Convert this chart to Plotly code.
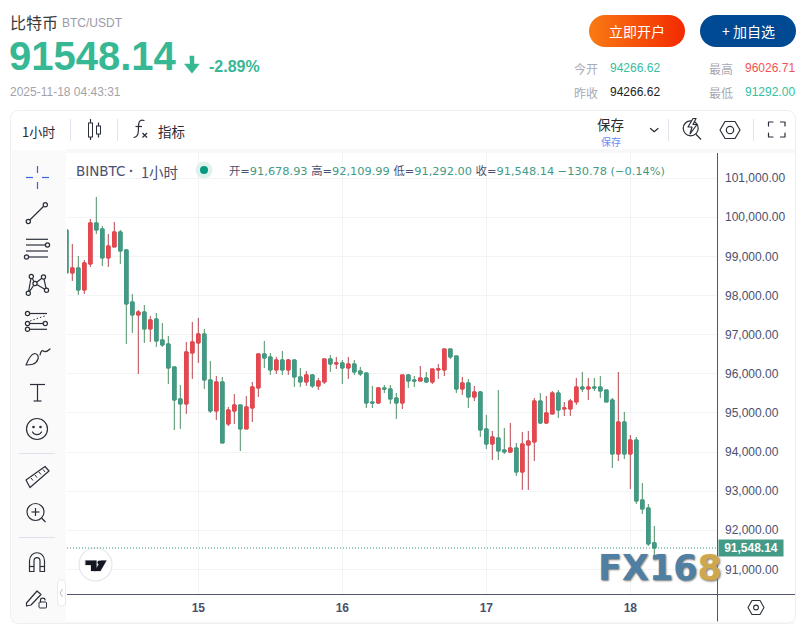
import base64
import pandas as pd
import plotly.graph_objects as go

W, H = 806, 625

opens = [99676,98577,98705,98143,98807,99855,99702,98961,99242,99625,99165,97836,97504,97580,97146,97401,96865,96762,96175,95357,
95229,96532,96788,97018,95842,95050,95791,94718,95050,95203,94590,95126,95638,96507,96430,96098,96353,96098,96353,95919,
95791,95970,95689,95791,96379,96251,96277,96149,96251,96072,96021,95280,95254,95638,95612,95382,95254,95970,95842,95816,
95893,95791,96098,96098,96634,96455,95612,95765,95407,95535,94590,94206,94360,94053,94002,94104,93490,94181,94257,95305,
94743,94973,95510,95101,95101,95280,95663,95612,95663,95663,95586,95331,93951,94768,93951,94308,92775,92570,91678.93]
highs = [99676,99318,99012,98909,99957,100520,99778,99574,99881,99676,99191,98040,97631,97759,97478,97555,97299,96967,96175,95714,
96814,97325,97427,97146,96328,95944,95919,95152,95484,95203,95433,95791,96507,96839,96532,96430,96583,96379,96353,96149,
96072,95995,95893,96379,96481,96430,96353,96430,96353,96174,96021,95689,95663,95714,95714,95510,95970,95995,95944,96200,
96046,96123,96251,96634,96634,96455,95919,95868,95689,95561,94947,94538,95586,94615,94743,94232,94513,94538,95382,95510,
95433,95561,95586,95280,95356,95893,96046,95893,95893,95944,95586,95382,96046,95024,94436,94385,93209,92673,92109.99]
lows = [98577,98373,98015,98040,98731,99574,98756,98731,99242,98807,96762,97044,95996,96788,96814,96686,96686,95740,94564,94590,
94973,95868,96277,95612,94999,94820,94232,94666,94717,94027,94590,94768,95407,96149,95970,95995,95970,95970,95663,95663,
95689,95638,95586,95740,96046,96123,95740,95868,95970,95944,95126,95126,95229,95510,95229,94845,95101,95638,95663,95816,
95765,95740,95868,95944,96379,95510,95459,95126,95305,94385,94078,93797,93797,93951,93976,93388,93030,93030,93772,94717,
94717,94973,94871,94922,94922,95203,95535,95331,95561,95382,95280,93593,93772,93823,93056,92673,92417,91599,91292]
closes = [98577,98705,98143,98833,99855,99676,98961,99267,99625,99139,97785,97504,97580,97146,97376,96839,96737,96149,95331,95229,
96558,96814,97018,95842,95050,95791,94232,95075,95203,94590,95152,95663,96507,96404,96098,96353,96098,96353,95919,95791,
95970,95689,95816,96379,96251,96277,96149,96251,96046,95995,95254,95254,95638,95612,95356,95254,95970,95816,95816,95893,
95791,96123,96123,96634,96430,95612,95765,95407,95535,94564,94206,94385,94027,94002,94104,93490,94206,94283,95305,94743,
94999,95510,95075,95126,95305,95663,95612,95663,95638,95561,95280,93951,94768,93951,94308,92749,92545,91650,91548.14]
times = pd.date_range("2025-11-14 02:00", periods=len(closes), freq="h")

y_ticks = [101000,100000,99000,98000,97000,96000,95000,94000,93000,92000,91000]
day_ticks = ["2025-11-15","2025-11-16","2025-11-17","2025-11-18"]
day_labels = ["15","16","17","18"]
change_label = "−130.78 (−0.14%)"

UP_BODY, UP_WICK = "#e5484f", "#b8464f"
DN_BODY, DN_WICK = "#439a86", "#4c8f62"
AXIS = "#4a5070"
GRID = "#f2f3f5"
GREEN = "#36b894"
SANS = "Liberation Sans, Arial, sans-serif"
CJK = "Noto Sans CJK SC, sans-serif"

fig = go.Figure()
fig.add_trace(go.Candlestick(x=times, open=opens, high=highs, low=lows, close=closes,
    increasing=dict(line=dict(color=UP_WICK, width=1), fillcolor=UP_BODY),
    decreasing=dict(line=dict(color=DN_WICK, width=1), fillcolor=DN_BODY),
    whiskerwidth=0, showlegend=False, hoverinfo="skip"))
fig.add_trace(go.Candlestick(x=times, open=opens, close=closes,
    high=[max(o, c) for o, c in zip(opens, closes)],
    low=[min(o, c) for o, c in zip(opens, closes)],
    increasing=dict(line=dict(color=UP_BODY, width=1), fillcolor=UP_BODY),
    decreasing=dict(line=dict(color=DN_BODY, width=1), fillcolor=DN_BODY),
    whiskerwidth=0, showlegend=False, hoverinfo="skip"))

# ---------- page furniture, drawn in page pixels ----------
ink = "#2b2f3a"
def c(x, y, r, stroke=ink, fill="none", sw=1.2):
    return f'<circle cx="{x}" cy="{y}" r="{r}" fill="{fill}" stroke="{stroke}" stroke-width="{sw}"/>'
def l(x1, y1, x2, y2, stroke=ink, sw=1.2, extra=""):
    return f'<line x1="{x1}" y1="{y1}" x2="{x2}" y2="{y2}" stroke="{stroke}" stroke-width="{sw}" {extra}/>'
def p(d, stroke=ink, fill="none", sw=1.2):
    return f'<path d="{d}" fill="{fill}" stroke="{stroke}" stroke-width="{sw}" stroke-linejoin="round" stroke-linecap="round"/>'
def r(x, y, w, h, fill, rx=0, stroke="none"):
    return f'<rect x="{x}" y="{y}" width="{w}" height="{h}" rx="{rx}" fill="{fill}" stroke="{stroke}"/>'

s = ['<defs><linearGradient id="g" x1="0" x2="1" y1="0" y2="0"><stop offset="0" stop-color="#f97a14"/>'
     '<stop offset="1" stop-color="#f32a00"/></linearGradient></defs>']
# buttons
s += [r(589, 15, 96, 32, "url(#g)", 16), r(700, 15, 96, 32, "#004a93", 16)]
# down arrow
s += [p("M190 56H194V64H199.3L192 73.3L184.5 64H190Z", stroke=GREEN, fill=GREEN, sw=0.5)]
# panels
s += [r(11, 150, 55, 473, "#fafafa"), r(66, 149, 729, 4, "#f8f8f8"), r(66, 621.5, 729, 2, "#f8f8f8")]
s += [r(10.5, 110.5, 785, 513, "none", 8, "#eeeff2")]
# top toolbar
for x in (70.5, 117.5, 668.5, 753.5):
    s.append(l(x, 119, x, 141, "#e0e3eb", 1))
s += [l(90.5, 119, 90.5, 140), r(88.5, 123, 4, 14, "#fff", 0, ink), l(98.5, 122.5, 98.5, 137.5), r(96.5, 126, 4, 8, "#fff", 0, ink)]
s += [p("M144 120.5C139 119 138.5 123 138.5 127C138.5 132 138.5 137 134 137.5"), l(135.5, 126.5, 142, 126.5),
      l(142.5, 133, 147, 137.5), l(147, 133, 142.5, 137.5)]
s += [p("M650.5 128.5L654.2 131.7L658 128.5")]
s += [c(690.7, 128.3, 7.5), l(695.8, 134, 701, 139.5), p("M693 118.5L688 127H692L690 134L697 124.5H693L696 118.5Z", fill="#fff")]
s += [p("M720 130L725 121.5H735L740 130L735 138.5H725Z"), c(730, 130, 3.7)]
s += [p("M768.5 126V122H773"), p("M780.5 122H785V126"), p("M768.5 133V137H773"), p("M780.5 137H785V133")]
# left tools
blue = "#3b62e0"
s += [l(26, 177.5, 33, 177.5, blue), l(42, 177.5, 49, 177.5, blue), l(37.5, 166, 37.5, 173, blue), l(37.5, 182, 37.5, 189, blue)]
s += [l(29.8, 220, 43.7, 206.2), c(28.3, 221.5, 2.1), c(45.3, 204.7, 2.1)]
s += [l(26, 239.3, 48, 239.3), l(26, 245, 45.5, 245), c(47.5, 245, 2.1), l(26, 251, 48, 251), l(28.5, 257, 48, 257), c(26.5, 257, 2.1)]
pts = [(31.3, 276.5), (43.5, 277), (35, 283.5), (46.5, 290.3), (28.3, 293.2)]
s += [p("M28.3 293.2L31.3 276.5L35 283.5L43.5 277L46.5 290.3L35 283.5L28.3 293.2")]
s += [c(x, y, 2.1, fill="#fafafa") for x, y in pts]
s += [l(29.5, 313.5, 47, 313.5), c(27.5, 313.5, 2.1), l(29.5, 323.5, 43.3, 323.5), c(27.5, 323.5, 2.1), c(45.3, 323.5, 2.1),
      l(29.5, 329.3, 47, 329.3), c(27.5, 329.3, 2.1), l(30, 321, 46, 315.5, ink, 1, 'stroke-dasharray="1.5 2"')]
s += [p("M26 365C30 365 36 365 38 359C39 356 37 353.5 34.5 353.5C31 354 28 360 26 365Z"), p("M40 355C41 351 42 349.5 44 351.5C46 352 48 351 50 349")]
s += [l(30, 384.5, 45, 384.5), l(37.5, 384.5, 37.5, 401), l(33.5, 401, 41.5, 401)]
s += [c(37, 429, 10.5), c(33.5, 427, 0.7, fill=ink), c(40.5, 427, 0.7, fill=ink), p("M32.5 432C34.5 435.5 39.5 435.5 41.5 432")]
s += [l(19, 453.5, 55, 453.5, "#dfe3ee", 1), l(19, 537.5, 55, 537.5, "#dfe3ee", 1)]
s += [p("M26 480L45 466.5L49 471L30 487.5Z"), l(31, 478, 33, 480.5, ink, 1), l(35, 475, 37, 477.5, ink, 1), l(39, 472, 41, 474.5, ink, 1), l(43, 469.5, 45, 472, ink, 1)]
s += [c(35.5, 512, 8.5), l(35.5, 508, 35.5, 516), l(31.5, 512, 39.5, 512), l(41.5, 518, 45.5, 522)]
s += [p("M29.5 571.5V561C29.5 550 44.5 550 44.5 561V571.5H40V561C40 556.5 34 556.5 34 561V571.5Z"), l(29.5, 566.5, 34, 566.5), l(40, 566.5, 44.5, 566.5)]
s += [p("M26.5 603L37 591L41 594.5L31 605L26.5 606Z"), r(39, 602, 7.5, 6, "#fafafa", 1, ink), p("M40.5 602V600C40.5 597.5 45 597.5 45 600")]
s += [r(57.5, 580, 8, 26, "#fff", 3, "#e8eaf0"), p("M62.3 589.5L60 593L62.3 596.5", stroke="#b5b9c5", sw=1)]
# axis frame
s += [l(717.5, 153, 717.5, 621.5, "#50566e", 1), l(67, 594.5, 795, 594.5, "#50566e", 1)]
# bottom hexagon
s += [p("M748 607.5L752 600.5H760L764 607.5L760 614.5H752Z", sw=1.1), c(756, 607.5, 2.4, sw=1.1)]
# status dot
s += [c(204, 170, 8.5, "none", "#dff2ee", 0), c(204, 170, 4, "none", "#089981", 0)]
# TV badge
s += [c(95.5, 564.5, 16.5, "#e4e6ee", "#fff", 1.2),
      p("M85.5 560.5H96.5V571H91V565H85.5Z", "#131722", "#131722", 0.2), c(99.5, 562.5, 2.1, "none", "#131722", 0),
      p("M101 560.5L106.5 560.5L100.5 571H94.5Z", "#131722", "#131722", 0.2)]

svg = f'<svg xmlns="http://www.w3.org/2000/svg" width="{W}" height="{H}" viewBox="0 0 {W} {H}">' + "".join(s) + "</svg>"
uri = "data:image/svg+xml;base64," + base64.b64encode(svg.encode()).decode()

# ---------- text ----------
ann = []
def text(x, y, t, size=12, color="#333", anchor="left", family=CJK, weight=None, **kw):
    if anchor == "left":
        x -= 1
    ann.append(dict(x=x / W, y=1 - y / H, xref="paper", yref="paper", text=t, showarrow=False, xanchor=anchor, yanchor="middle",
                    borderpad=0, font=dict(size=size, color=color, family=family, weight=weight), **kw))

text(10, 22, "比特币", 16, "#3a3a3a")
text(62, 23, "BTC/USDT", 12, "#9a9aa8", family=SANS)
text(9, 56, "91548.14", 40, GREEN, family=SANS, weight="bold")
text(209, 67, "-2.89%", 16, GREEN, family=SANS, weight="bold")
text(10, 92, "2025-11-18 04:43:31", 12, "#a3a3ab", family=SANS)
text(637, 31, "立即开户", 14, "#ffffff", "center")
text(748, 31, "+ 加自选", 14, "#ffffff", "center")
text(574, 68, "今开", 12, "#a9acb8")
text(610, 68, "94266.62", 12, "#36c0a0", family=SANS)
text(709, 68, "最高", 12, "#a9a9b0")
text(745, 68, "96026.71", 12, "#f25353", family=SANS)
text(574, 92, "昨收", 12, "#a9a9b0")
text(610, 92, "94266.62", 12, "#1c1c24", family=SANS)
text(709, 92, "最低", 12, "#a9a9b0")
text(745, 92, "91292.00", 12, "#36c0a0", family=SANS)
text(22, 131, "1小时", 13, "#2a2a30")
text(158, 131, "指标", 13.5, "#2a2a30")
text(597, 123.5, "保存", 13.5, "#2a2a30")
text(601, 141, "保存", 10, "#6d8cf5")
text(76, 171, "BINBTC", 13.5, AXIS, family="DejaVu Sans")
text(129, 171, "·", 14, AXIS, family=SANS, weight="bold")
text(141, 171, "1小时", 14.5, AXIS)

def span(v):
    return f'<span style="color:{DN_BODY}">{v}</span>'
ohlc = ("开=" + span(f"{opens[-1]:,.2f}") + " 高=" + span(f"{highs[-1]:,.2f}") +
        " 低=" + span(f"{lows[-1]:,.2f}") + " 收=" + span(f"{closes[-1]:,.2f}") +
        " " + span(change_label))
text(229, 171, ohlc, 11.35, AXIS, family="DejaVu Sans, Noto Sans CJK SC")

# last price tag, placed on the price scale
ann.append(dict(x=717.5 / W, y=closes[-1], xref="paper", yref="y", text=f"<b>{closes[-1]:,.2f}</b>", showarrow=False,
                xanchor="left", yanchor="middle", bgcolor=DN_BODY, width=62, height=14, borderpad=1,
                font=dict(size=12, color="#fff", family=SANS)))
# watermark
text(598, 568, '<b>FX16<span style="color:#cfa84e">8</span></b>', 35, "#4f7fa3", family="DejaVu Sans")
ann[-1]["font"]["shadow"] = "1px 1px 2px #777"

fig.update_layout(
    width=W, height=H, margin=dict(l=0, r=0, t=0, b=0), autosize=False,
    paper_bgcolor="#ffffff", plot_bgcolor="#ffffff", showlegend=False, boxgap=0.17, dragmode=False,
    xaxis=dict(domain=[67 / W, 717 / W], range=["2025-11-14 02:07", "2025-11-18 14:27"], rangeslider=dict(visible=False),
               tickmode="array", tickvals=day_ticks, ticktext=day_labels, ticklen=0, showline=False, zeroline=False,
               gridcolor=GRID, gridwidth=1, tickfont=dict(size=12, color=AXIS, family=SANS, weight="bold"), ticklabelstandoff=5),
    yaxis=dict(domain=[1 - 594.3 / H, 1 - 153 / H], range=[90364, 101643], side="right", anchor="x",
               tickmode="array", tickvals=y_ticks, tickformat=",.2f", ticklen=0, showline=False, zeroline=False,
               gridcolor=GRID, gridwidth=1, tickfont=dict(size=12, color=AXIS, family=SANS), ticklabelstandoff=7),
    shapes=[dict(type="line", xref="paper", yref="y", x0=67 / W, x1=717 / W, y0=closes[-1], y1=closes[-1],
                 line=dict(color="#2f9a80", width=1, dash="1px,2px"))],
    images=[dict(source=uri, xref="paper", yref="paper", x=0, y=1, sizex=1, sizey=1, xanchor="left", yanchor="top",
                 sizing="stretch", layer="above")],
    annotations=ann,
)
fig.write_html("out.html", config=dict(displayModeBar=False),
               post_script="document.body.style.margin='0';document.documentElement.style.overflow='hidden';")
